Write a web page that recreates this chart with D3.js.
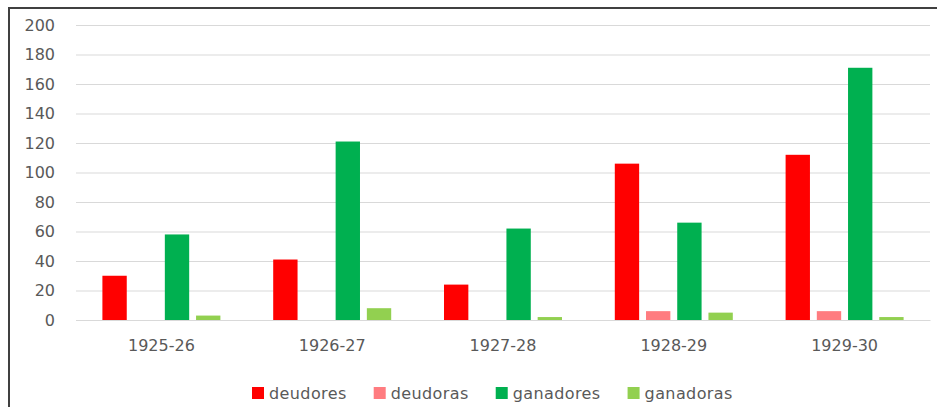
<!DOCTYPE html>
<html>
<head>
<meta charset="utf-8">
<script src="https://cdn.jsdelivr.net/npm/d3@7"></script>
<style>
  body { margin: 0; background: #fff; }
  svg text { font-family: "DejaVu Sans", sans-serif; fill: #595959; }
</style>
</head>
<body>
<div id="chart"></div>
<script>
// data
const years = ["1925-26", "1926-27", "1927-28", "1928-29", "1929-30"];
const series = ["deudores", "deudoras", "ganadores", "ganadoras"];
const deudores = [30, 41, 24, 106, 112];
const deudoras = [0, 0, 0, 6, 6];
const ganadores = [58, 121, 62, 66, 171];
const ganadoras = [3, 8, 2, 5, 2];
const yTicks = [0, 20, 40, 60, 80, 100, 120, 140, 160, 180, 200];

const colors = {
    deudores: "#ff0000",
    deudoras: "#ff7c80",
    ganadores: "#00b050",
    ganadoras: "#92d050"
};

const values = { deudores, deudoras, ganadores, ganadoras };
const rows = years.map((y, i) => ({ year: y, vals: series.map(s => ({ key: s, value: values[s][i] })) }));

const W = 937, H = 407;
const svg = d3.select("#chart").append("svg")
    .attr("width", W)
    .attr("height", H);

// outer frame (only top and left edges visible)
svg.append("rect")
    .attr("x", 9).attr("y", 8)
    .attr("width", W + 20).attr("height", H + 20)
    .attr("fill", "none")
    .attr("stroke", "#404040")
    .attr("stroke-width", 2);

const plot = { left: 76, right: 930, top: 25, bottom: 320 };

const x0 = d3.scaleBand().domain(years).range([plot.left, plot.right]).padding(0);
const groupW = 118;
const x1 = d3.scaleBand().domain(series)
    .range([(x0.bandwidth() - groupW) / 2, (x0.bandwidth() + groupW) / 2])
    .paddingInner(0.22).paddingOuter(0);
const y = d3.scaleLinear().domain([0, 200]).range([plot.bottom, plot.top]);

// gridlines
const yAxis = d3.axisLeft(y).tickValues(yTicks)
    .tickSize(-(plot.right - plot.left)).tickPadding(20);
const gy = svg.append("g").attr("transform", `translate(${plot.left},0)`).call(yAxis);
gy.select(".domain").remove();
gy.selectAll(".tick line").attr("stroke", "#d9d9d9").attr("stroke-width", 1.2);
gy.selectAll(".tick text")
    .attr("x", 55 - plot.left)
    .style("font-size", "16px")
    .style("font-family", "'DejaVu Sans', sans-serif")
    .attr("fill", "#595959");

// bars
const groups = svg.selectAll(".grp").data(rows).enter().append("g")
    .attr("class", "grp")
    .attr("transform", d => `translate(${x0(d.year)},0)`);

groups.selectAll("rect").data(d => d.vals.filter(v => v.value > 0)).enter().append("rect")
    .attr("x", d => x1(d.key))
    .attr("y", d => y(d.value))
    .attr("width", x1.bandwidth())
    .attr("height", d => y(0) - y(d.value))
    .attr("fill", d => colors[d.key]);

// x axis labels
const xAxis = d3.axisBottom(x0).tickSize(0).tickPadding(20);
const gx = svg.append("g").attr("transform", `translate(0,${plot.bottom})`).call(xAxis);
gx.select(".domain").attr("stroke", "#d9d9d9").attr("stroke-width", 1.2);
gx.selectAll(".tick text")
    .style("font-size", "16px")
    .style("font-family", "'DejaVu Sans', sans-serif")
    .attr("fill", "#595959");

// legend
const legend = svg.append("g").attr("transform", "translate(252,393)");
let lx = 0;
series.forEach(s => {
    const item = legend.append("g").attr("transform", `translate(${lx},0)`);
    item.append("rect")
        .attr("x", 0).attr("y", -6)
        .attr("width", 12).attr("height", 12)
        .attr("fill", colors[s]);
    const t = item.append("text")
        .attr("x", 17).attr("y", 6)
        .style("font-size", "16px")
        .style("letter-spacing", "0.4px")
        .text(s);
    lx += 17 + t.node().getComputedTextLength() + 27;
});
</script>
</body>
</html>
